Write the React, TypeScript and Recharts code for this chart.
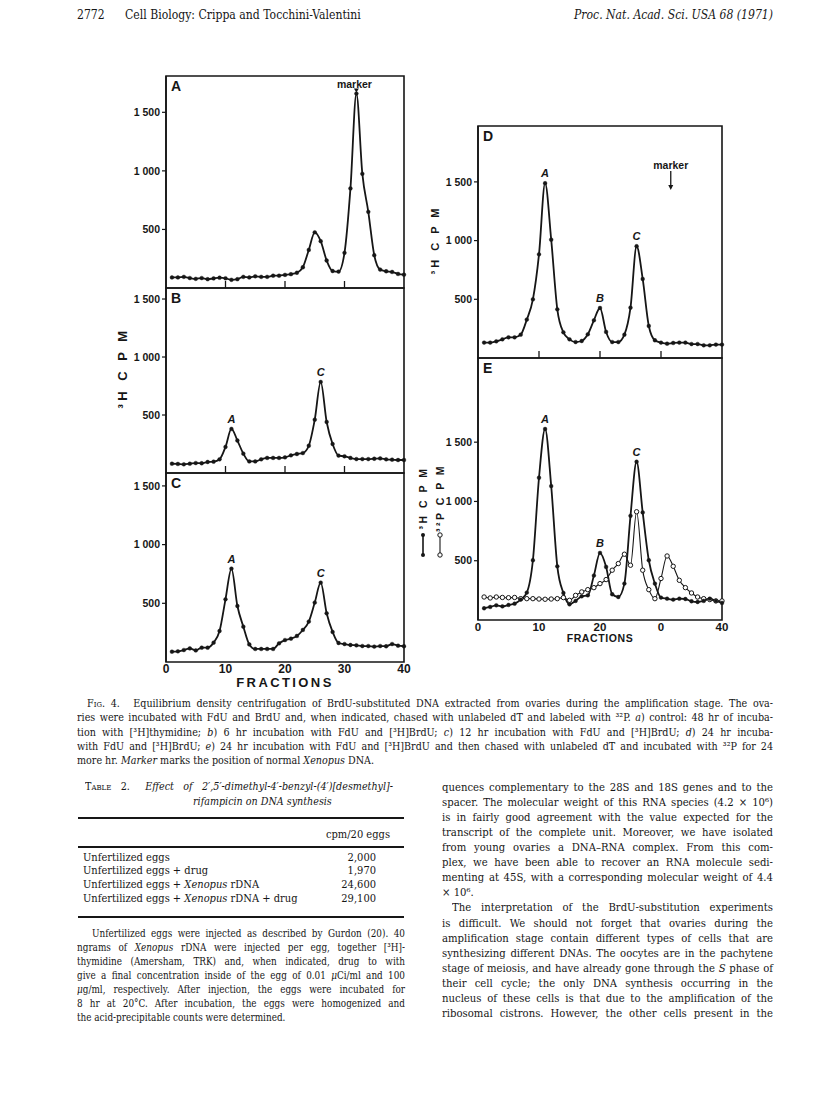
import React from 'react'
import { LineChart, Line, XAxis, YAxis, ReferenceArea, ReferenceDot } from 'recharts'

const INK = '#161616'
const SANS = '"Liberation Sans", Arial, sans-serif'
const SERIF = '"DejaVu Serif", "Liberation Serif", serif'

// fraction number of every point (x axis)
const FRACTIONS = [
  1, 2, 3, 4, 5, 6, 7, 8, 9, 10, 11, 12, 13, 14, 15, 16, 17, 18, 19, 20,
  21, 22, 23, 24, 25, 26, 27, 28, 29, 30, 31, 32, 33, 34, 35, 36, 37, 38, 39, 40,
]

// 3H CPM per fraction
const A_3H = [90, 90, 95, 85, 78, 85, 75, 82, 88, 83, 70, 75, 95, 90, 100, 95, 95, 105, 105, 112, 118, 130, 177, 325, 475, 400, 235, 145, 140, 300, 850, 1660, 975, 650, 280, 157, 143, 137, 120, 114]
const B_3H = [80, 78, 75, 80, 86, 84, 95, 98, 118, 225, 380, 280, 167, 100, 100, 118, 130, 130, 130, 135, 152, 164, 172, 235, 460, 785, 440, 250, 150, 144, 130, 120, 120, 120, 123, 126, 118, 115, 112, 112]
const C_3H = [88, 91, 102, 116, 99, 122, 122, 165, 264, 534, 795, 477, 301, 150, 111, 111, 111, 111, 159, 187, 199, 222, 273, 344, 506, 676, 415, 256, 162, 153, 145, 142, 136, 136, 131, 136, 134, 153, 139, 134]
const D_3H = [131, 131, 142, 159, 176, 176, 199, 327, 500, 883, 1489, 1008, 415, 219, 159, 136, 145, 202, 321, 426, 222, 136, 136, 199, 429, 952, 673, 273, 151, 131, 122, 128, 131, 131, 119, 119, 108, 108, 114, 114]
const E_3H = [99, 110, 124, 115, 127, 138, 172, 231, 504, 1200, 1611, 1130, 453, 228, 132, 161, 200, 208, 375, 566, 448, 217, 194, 307, 879, 1335, 907, 504, 307, 189, 180, 172, 180, 177, 158, 152, 161, 180, 161, 144]
// 32P CPM, panel E only
const E_32P = [194, 186, 194, 190, 188, 190, 180, 180, 180, 177, 175, 177, 180, 189, 166, 208, 237, 256, 273, 307, 341, 420, 476, 555, 462, 913, 420, 256, 180, 350, 540, 453, 335, 273, 228, 194, 180, 172, 161, 161]

const Y_TICKS = [500, 1000, 1500]
const X_TICKS = [0, 10, 20, 30, 40]
const X_LABELS_C = ['0', '10', '20', '30', '40']
const X_LABELS_E = ['0', '10', '20', '0', '40']

const PEAKS_B = [{ f: 11, name: 'A' }, { f: 26, name: 'C' }]
const PEAKS_C = [{ f: 11, name: 'A' }, { f: 26, name: 'C' }]
const PEAKS_D = [{ f: 11, name: 'A' }, { f: 20, name: 'B' }, { f: 26, name: 'C' }]
const PEAKS_E = [{ f: 11, name: 'A' }, { f: 20, name: 'B' }, { f: 26, name: 'C' }]

// where "marker" points
const A_MARKER_FRACTION = 32
const D_MARKER = { f: 31.6, cpm: 1430 }

const fmtCpm = (v: number) => (v >= 1000 ? `${Math.floor(v / 1000)} ${String(v % 1000).padStart(3, '0')}` : String(v))

const xTick = (labels: string[] | null, inward: boolean, dy: number, size: number) => (props: any) => {
  const { x, y, payload } = props
  const i = X_TICKS.indexOf(payload.value)
  return (
    <g>
      {inward && i > 0 && i < 4 && <line x1={x} x2={x} y1={y} y2={y - 7} stroke={INK} strokeWidth={1.3} />}
      {labels && (
        <text x={x} y={y + dy} textAnchor="middle" fontFamily={SANS} fontWeight="bold" fontSize={size} fill={INK}>
          {labels[i]}
        </text>
      )}
    </g>
  )
}

const cpmText = (x: number, y: number, text: string, size: number, spacing: number) => (
  <text
    x={x}
    y={y}
    transform={`rotate(-90 ${x} ${y})`}
    textAnchor="middle"
    dominantBaseline="central"
    fontFamily={SANS}
    fontWeight="bold"
    fontSize={size}
    letterSpacing={spacing}
    fill={INK}
  >
    {text}
  </text>
)

const leftCpmLabel = (dx: number, dy: number, size: number, spacing: number) => (props: any) => {
  const { viewBox } = props
  return cpmText(viewBox.x + viewBox.width - dx, viewBox.y + dy, '³H C P M', size, spacing)
}

// panel E: the two rotated labels with their line/dot keys
const legendE = (props: any) => {
  const { viewBox } = props
  const r = viewBox.x + viewBox.width
  const x1 = r - 55
  const x2 = r - 38
  const y0 = viewBox.y
  return (
    <g>
      {cpmText(x1, y0 + 140, '³H C P M', 10.5, 2.5)}
      {cpmText(x2, y0 + 140, '³²P C P M', 10.5, 2.5)}
      <line x1={x1} x2={x1} y1={y0 + 177} y2={y0 + 197} stroke={INK} strokeWidth={1.6} />
      <circle cx={x1} cy={y0 + 177} r={2} fill={INK} />
      <circle cx={x1} cy={y0 + 197} r={2} fill={INK} />
      <line x1={x2} x2={x2} y1={y0 + 177} y2={y0 + 197} stroke={INK} strokeWidth={1.1} />
      <circle cx={x2} cy={y0 + 177} r={2.2} fill="#fff" stroke={INK} strokeWidth={1} />
      <circle cx={x2} cy={y0 + 197} r={2.2} fill="#fff" stroke={INK} strokeWidth={1} />
    </g>
  )
}

const peakMarker = (props: any) => {
  const { cx, cy } = props
  return (
    <g>
      <path d={`M${cx - 2.5},${cy - 5} L${cx + 2.5},${cy - 5} L${cx},${cy - 1} Z`} fill={INK} />
      <text x={cx - 2} y={cy - 6} textAnchor="middle" fontFamily={SANS} fontWeight="bold" fontSize={10.5} fill={INK}>
        marker
      </text>
    </g>
  )
}

const arrowMarker = (props: any) => {
  const { cx, cy } = props
  return (
    <g>
      <line x1={cx} x2={cx} y1={cy - 19} y2={cy - 2} stroke={INK} strokeWidth={1.3} />
      <path d={`M${cx - 2.5},${cy - 5} L${cx + 2.5},${cy - 5} L${cx},${cy} Z`} fill={INK} />
      <text x={cx} y={cy - 21} textAnchor="middle" fontFamily={SANS} fontWeight="bold" fontSize={10.5} fill={INK}>
        marker
      </text>
    </g>
  )
}

type PanelProps = {
  plotLeft: number
  plotTop: number
  plotW: number
  plotH: number
  axisW: number
  yMax: number
  h: number[]
  p?: number[]
  letter: string
  peaks?: { f: number; name: string }[]
  xLabels?: string[]
  xLabelDy?: number
  xLabelSize?: number
  fractionsLabel?: { dy: number; size: number; spacing: number }
  inward?: boolean
  yLabel?: (props: any) => React.ReactElement
  extra?: React.ReactNode
}

function Panel(props: PanelProps) {
  const { plotLeft, plotTop, plotW, plotH, axisW, yMax, h, p, letter, peaks = [], xLabels, inward = true } = props
  const mTop = 14
  const mRight = 10
  const xAxisH = xLabels ? 44 : 1
  const width = axisW + plotW + mRight
  const height = mTop + plotH + xAxisH + 2
  const rows = FRACTIONS.map((f, i) => ({ f, h: h[i], p: p ? p[i] : undefined }))
  const fl = props.fractionsLabel
  return (
    <div style={{ position: 'absolute', left: plotLeft - axisW, top: plotTop - mTop }}>
      <LineChart width={width} height={height} data={rows} margin={{ top: mTop, right: mRight, bottom: 2, left: 0 }}>
        <XAxis
          dataKey="f"
          type="number"
          domain={[0, 40]}
          ticks={X_TICKS}
          interval={0}
          axisLine={false}
          tickLine={false}
          tickSize={0}
          tickMargin={0}
          height={xAxisH}
          tick={xTick(xLabels || null, inward, props.xLabelDy || 12, props.xLabelSize || 12)}
          label={
            fl
              ? (lp: any) => (
                  <text
                    x={lp.viewBox.x + lp.viewBox.width / 2}
                    y={lp.viewBox.y + fl.dy}
                    textAnchor="middle"
                    fontFamily={SANS}
                    fontWeight="bold"
                    fontSize={fl.size}
                    letterSpacing={fl.spacing}
                    fill={INK}
                  >
                    FRACTIONS
                  </text>
                )
              : undefined
          }
        />
        <YAxis
          type="number"
          domain={[0, yMax]}
          ticks={Y_TICKS}
          interval={0}
          width={axisW}
          tickFormatter={fmtCpm}
          tickSize={4}
          tickMargin={2}
          axisLine={{ stroke: INK, strokeWidth: 1.6 }}
          tickLine={{ stroke: INK, strokeWidth: 1.2 }}
          tick={{ fontFamily: SANS, fontWeight: 'bold', fontSize: 10.5, fill: INK }}
          label={props.yLabel}
        />
        <ReferenceArea
          x1={0}
          x2={40}
          y1={0}
          y2={yMax}
          fill="none"
          stroke={INK}
          strokeWidth={1.6}
          ifOverflow="visible"
          label={{ value: letter, position: 'insideTopLeft', offset: 5, fill: INK, fontSize: 14, fontWeight: 'bold', fontFamily: SANS }}
        />
        {p && (
          <Line
            dataKey="p"
            type="monotone"
            stroke={INK}
            strokeWidth={1.1}
            dot={{ r: 2.2, fill: '#fff', stroke: INK, strokeWidth: 1 }}
            isAnimationActive={false}
          />
        )}
        <Line
          dataKey="h"
          type="monotone"
          stroke={INK}
          strokeWidth={1.8}
          dot={{ r: 1.9, fill: INK, stroke: INK, strokeWidth: 0.4 }}
          isAnimationActive={false}
        />
        {peaks.map((pk) => (
          <ReferenceDot
            key={pk.name}
            x={pk.f}
            y={h[pk.f - 1]}
            r={0}
            fill="none"
            stroke="none"
            ifOverflow="visible"
            label={{ value: pk.name, position: 'top', offset: 6, fill: INK, fontSize: 11, fontWeight: 'bold', fontStyle: 'italic', fontFamily: SANS }}
          />
        ))}
        {props.extra}
      </LineChart>
    </div>
  )
}

// one printed line; k squeezes the face horizontally so the serif sits closer to the scan's Century type
function Txt({ x, y, w = 400, size = 12, k = 0.87, just = false, align = 'left', children, style }: any) {
  return (
    <div
      style={{
        position: 'absolute',
        left: x,
        top: y - size * 0.72,
        width: w / k,
        fontSize: size,
        lineHeight: `${size * 1.2}px`,
        whiteSpace: 'nowrap',
        textAlign: just ? 'justify' : align,
        textAlignLast: just ? 'justify' : align,
        transform: `scaleX(${k})`,
        transformOrigin: 'left center',
        ...style,
      }}
    >
      {children}
    </div>
  )
}

const Rule = ({ x, y, w, t }: any) => (
  <div style={{ position: 'absolute', left: x, top: y - t / 2, width: w, height: t, background: INK }} />
)

const Gap = ({ w }: any) => <span style={{ display: 'inline-block', width: w }} />
const SC = ({ children }: any) => <span style={{ fontVariant: 'small-caps' }}>{children}</span>

export default function App() {
  const capY = [705, 719.3, 733.6, 748, 762.2]
  const cap = 11
  const rightY = 789
  const rs = 15.1
  const body = 11.6
  const noteY = 935
  const ns = 14.05
  const note = 10.2
  const row = 11.4
  return (
    <div
      style={{
        position: 'absolute',
        left: 0,
        top: 0,
        width: 816,
        height: 1108,
        background: '#fff',
        color: INK,
        fontFamily: SERIF,
        overflow: 'hidden',
      }}
    >
      {/* running head */}
      <Txt x={77} y={16} size={12.5}>2772</Txt>
      <Txt x={125} y={16} size={12.5}>Cell Biology: Crippa and Tocchini-Valentini</Txt>
      <Txt x={540} y={16} w={233} size={12.5} align="right" style={{ fontStyle: 'italic' }}>
        Proc. Nat. Acad. Sci. USA 68 (1971)
      </Txt>

      {/* left column panels */}
      <Panel
        plotLeft={166} plotTop={76} plotW={238} plotH={212} axisW={60} yMax={1810}
        h={A_3H} letter="A"
        extra={<ReferenceDot x={A_MARKER_FRACTION} y={A_3H[A_MARKER_FRACTION - 1]} r={0} ifOverflow="visible" shape={peakMarker} />}
      />
      <Panel
        plotLeft={166} plotTop={288} plotW={238} plotH={185} axisW={60} yMax={1595}
        h={B_3H} letter="B" peaks={PEAKS_B} yLabel={leftCpmLabel(44, 80, 13, 3.5)}
      />
      <Panel
        plotLeft={166} plotTop={473} plotW={238} plotH={189} axisW={60} yMax={1610}
        h={C_3H} letter="C" peaks={PEAKS_C} inward={false}
        xLabels={X_LABELS_C} xLabelDy={11} xLabelSize={12}
        fractionsLabel={{ dy: 25, size: 13, spacing: 2.4 }}
      />

      {/* right column panels */}
      <Panel
        plotLeft={478} plotTop={126} plotW={244} plotH={232} axisW={62} yMax={1976}
        h={D_3H} letter="D" peaks={PEAKS_D} yLabel={leftCpmLabel(43, 114, 11, 3)}
        extra={<ReferenceDot x={D_MARKER.f} y={D_MARKER.cpm} r={0} ifOverflow="visible" shape={arrowMarker} />}
      />
      <Panel
        plotLeft={478} plotTop={358} plotW={244} plotH={262} axisW={62} yMax={2210}
        h={E_3H} p={E_32P} letter="E" peaks={PEAKS_E} inward={false}
        xLabels={X_LABELS_E} xLabelDy={11} xLabelSize={11.5}
        fractionsLabel={{ dy: 22, size: 10.5, spacing: 0.6 }}
        yLabel={legendE}
      />

      {/* figure legend */}
      <Txt x={87} y={capY[0]} w={686} size={cap} just>
        <SC>Fig.</SC> 4.<Gap w={9} /> Equilibrium density centrifugation of BrdU-substituted DNA extracted from ovaries during the amplification stage. The ova-
      </Txt>
      <Txt x={77} y={capY[1]} w={696} size={cap} just>
        ries were incubated with FdU and BrdU and, when indicated, chased with unlabeled dT and labeled with ³²P. <i>a</i>) control: 48 hr of incuba-
      </Txt>
      <Txt x={77} y={capY[2]} w={696} size={cap} just>
        tion with [³H]thymidine; <i>b</i>) 6 hr incubation with FdU and [³H]BrdU; <i>c</i>) 12 hr incubation with FdU and [³H]BrdU; <i>d</i>) 24 hr incuba-
      </Txt>
      <Txt x={77} y={capY[3]} w={696} size={cap} just>
        with FdU and [³H]BrdU; <i>e</i>) 24 hr incubation with FdU and [³H]BrdU and then chased with unlabeled dT and incubated with ³²P for 24
      </Txt>
      <Txt x={77} y={capY[4]} size={cap}>
        more hr. <i>Marker</i> marks the position of normal <i>Xenopus</i> DNA.
      </Txt>

      {/* table 2 */}
      <Txt x={85} y={788} w={308} size={11} just>
        <SC>Table</SC> 2.<Gap w={7} /> <i>Effect of 2′,5′-dimethyl-4′-benzyl-(4′)[desmethyl]-</i>
      </Txt>
      <Txt x={193} y={802.5} size={11}>
        <i>rifampicin on DNA synthesis</i>
      </Txt>
      <Rule x={78} y={818} w={326} t={2} />
      <Txt x={290} y={836.7} w={100} size={row} align="right">cpm/20 eggs</Txt>
      <Rule x={78} y={847} w={326} t={1.6} />
      <Txt x={83} y={859} size={row}>Unfertilized eggs</Txt>
      <Txt x={83} y={872.5} size={row}>Unfertilized eggs + drug</Txt>
      <Txt x={83} y={886} size={row}>Unfertilized eggs + <i>Xenopus</i> rDNA</Txt>
      <Txt x={83} y={900} size={row}>Unfertilized eggs + <i>Xenopus</i> rDNA + drug</Txt>
      <Txt x={300} y={859} w={76} size={row} align="right">2,000</Txt>
      <Txt x={300} y={872.5} w={76} size={row} align="right">1,970</Txt>
      <Txt x={300} y={886} w={76} size={row} align="right">24,600</Txt>
      <Txt x={300} y={900} w={76} size={row} align="right">29,100</Txt>
      <Rule x={78} y={917} w={326} t={2} />

      <Txt x={92} y={noteY} w={313} size={note} just>Unfertilized eggs were injected as described by Gurdon (20). 40</Txt>
      <Txt x={77} y={noteY + ns} w={328} size={note} just>ngrams of <i>Xenopus</i> rDNA were injected per egg, together [³H]-</Txt>
      <Txt x={77} y={noteY + ns * 2} w={328} size={note} just>thymidine (Amersham, TRK) and, when indicated, drug to with</Txt>
      <Txt x={77} y={noteY + ns * 3} w={328} size={note} just>give a final concentration inside of the egg of 0.01 <i>μ</i>Ci/ml and 100</Txt>
      <Txt x={77} y={noteY + ns * 4} w={328} size={note} just>
        <i>μ</i>g/ml, respectively. After injection, the eggs were incubated for
      </Txt>
      <Txt x={77} y={noteY + ns * 5} w={328} size={note} just>8 hr at 20°C. After incubation, the eggs were homogenized and</Txt>
      <Txt x={77} y={noteY + ns * 6} size={note}>the acid-precipitable counts were determined.</Txt>

      {/* right column body text */}
      <Txt x={442} y={rightY} w={331} size={body} just>quences complementary to the 28S and 18S genes and to the</Txt>
      <Txt x={442} y={rightY + rs} w={331} size={body} just>spacer. The molecular weight of this RNA species (4.2 × 10⁶)</Txt>
      <Txt x={442} y={rightY + rs * 2} w={331} size={body} just>is in fairly good agreement with the value expected for the</Txt>
      <Txt x={442} y={rightY + rs * 3} w={331} size={body} just>transcript of the complete unit. Moreover, we have isolated</Txt>
      <Txt x={442} y={rightY + rs * 4} w={331} size={body} just>from young ovaries a DNA–RNA complex. From this com-</Txt>
      <Txt x={442} y={rightY + rs * 5} w={331} size={body} just>plex, we have been able to recover an RNA molecule sedi-</Txt>
      <Txt x={442} y={rightY + rs * 6} w={331} size={body} just>menting at 45S, with a corresponding molecular weight of 4.4</Txt>
      <Txt x={442} y={rightY + rs * 7} size={body}>× 10⁶.</Txt>
      <Txt x={452} y={rightY + rs * 8} w={321} size={body} just>The interpretation of the BrdU-substitution experiments</Txt>
      <Txt x={442} y={rightY + rs * 9} w={331} size={body} just>is difficult. We should not forget that ovaries during the</Txt>
      <Txt x={442} y={rightY + rs * 10} w={331} size={body} just>amplification stage contain different types of cells that are</Txt>
      <Txt x={442} y={rightY + rs * 11} w={331} size={body} just>synthesizing different DNAs. The oocytes are in the pachytene</Txt>
      <Txt x={442} y={rightY + rs * 12} w={331} size={body} just>
        stage of meiosis, and have already gone through the <i>S</i> phase of
      </Txt>
      <Txt x={442} y={rightY + rs * 13} w={331} size={body} just>their cell cycle; the only DNA synthesis occurring in the</Txt>
      <Txt x={442} y={rightY + rs * 14} w={331} size={body} just>nucleus of these cells is that due to the amplification of the</Txt>
      <Txt x={442} y={rightY + rs * 15} w={331} size={body} just>ribosomal cistrons. However, the other cells present in the</Txt>
    </div>
  )
}
